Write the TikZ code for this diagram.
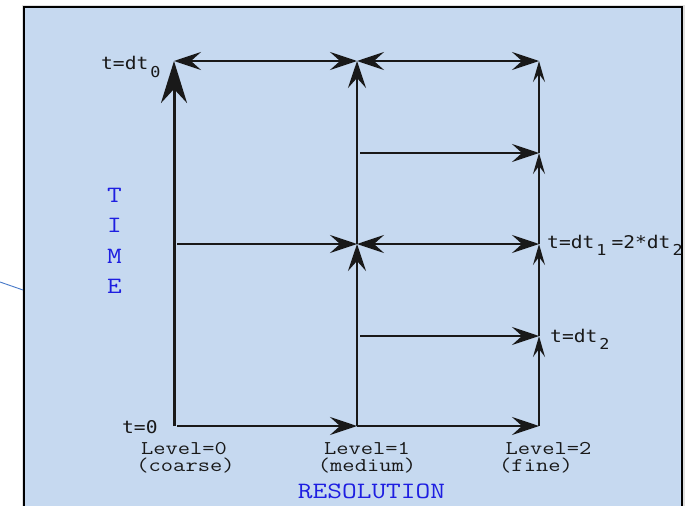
\documentclass[tikz,border=0pt]{standalone}
\usepackage{fontspec}
\usepackage{graphicx}
\usetikzlibrary{arrows.meta}
\newfontfamily\tfont[FakeStretch=1.12]{DejaVu Sans Mono}
\definecolor{boxfill}{RGB}{198,217,240}
\definecolor{labblue}{RGB}{30,30,225}
\definecolor{linkblue}{RGB}{70,120,200}
\definecolor{ink}{RGB}{25,25,25}
\newcommand{\cour}[1]{\scalebox{1.22}[1]{\ttfamily #1}}
\newcommand{\lowsub}[1]{\hspace{2pt}\raisebox{-7.5pt}{\fontsize{15}{15}\selectfont #1}}
\tikzset{
  BigTip/.tip={Stealth[length=42pt,width=26pt,inset=14pt]},
  MidTip/.tip={Stealth[length=27pt,width=18pt,inset=10pt]},
  SmallTip/.tip={Stealth[length=21pt,width=12pt,inset=8pt]},
  conn/.style={draw=ink, line width=1.8pt},
  thinconn/.style={draw=ink, line width=1.4pt},
  thickconn/.style={draw=ink, line width=3pt},
  tlab/.style={font=\tfont\fontsize{17.5}{17.5}\selectfont, text=ink, inner sep=0pt, anchor=base west},
  levlab/.style={font=\fontsize{19.5}{19.5}\selectfont, text=ink, inner sep=0pt, anchor=base, text depth=0pt},
  parlab/.style={font=\fontsize{19.5}{19.5}\selectfont, text=ink, inner sep=0pt, anchor=base, text height=10pt},
  axlab/.style={font=\fontsize{23.4}{23.4}\selectfont, text=labblue, inner sep=0pt, anchor=base},
}
\begin{document}
\begin{tikzpicture}[x=1pt,y=-1pt]
\useasboundingbox (0,0) rectangle (689,506);
\clip (0,0) rectangle (689,506);
% frame
\draw[black!12, line width=5pt] (24,7) rectangle (682,530);
\fill[boxfill] (24,7) rectangle (682,530);
\draw[black, line width=2pt] (24,7) rectangle (682,530);
% external link line
\coordinate (lk0) at (0,282);
\coordinate (lk1) at (23,290);
\draw[linkblue, line width=0.9pt] (lk0) -- (lk1);
% grid points
\coordinate (A0) at (174,426);
\coordinate (Am) at (174,244);
\coordinate (A4) at (174,61);
\coordinate (B0) at (357,426);
\coordinate (B1) at (357,336);
\coordinate (B2) at (357,244);
\coordinate (B3) at (357,153);
\coordinate (B4) at (357,61);
\coordinate (C0) at (539,426);
\coordinate (C1) at (539,336);
\coordinate (C2) at (539,244);
\coordinate (C3) at (539,153);
\coordinate (C4) at (539,61);
% level 0
\draw[thickconn, -{BigTip}] (A0) -- (A4);
% bottom
\draw[conn, -{MidTip}, shorten <=3pt] (A0) -- (B0);
\draw[conn, -{MidTip}] (B0) -- (C0);
% top
\draw[conn, {MidTip}-{MidTip}] (A4) -- (B4);
\draw[conn, {MidTip}-{MidTip}] (B4) -- (C4);
% middle
\draw[conn, -{MidTip}, shorten <=3pt] (Am) -- (B2);
\draw[conn, {MidTip}-{MidTip}] (B2) -- (C2);
% fine steps
\draw[conn, -{MidTip}, shorten <=3pt] (B3) -- (C3);
\draw[conn, -{MidTip}, shorten <=3pt] (B1) -- (C1);
% level 1 vertical
\draw[conn, -{MidTip}] (B0) -- (B2);
\draw[conn, -{MidTip}] (B2) -- (B4);
% level 2 vertical
\draw[thinconn, -{SmallTip}] (C0) -- (C1);
\draw[thinconn, -{SmallTip}] (C1) -- (C2);
\draw[thinconn, -{SmallTip}] (C2) -- (C3);
\draw[thinconn, -{SmallTip}] (C3) -- (C4);
% time labels
\node[tlab] (tdt0) at (101,69.5) {t=dt\lowsub{0}};
\node[tlab] (tzero) at (122,433) {t=0};
\node[tlab] (tdt1) at (547,248) {t=dt\lowsub{1}\hspace{5pt}=2*dt\lowsub{2}};
\node[tlab] (tdt2) at (550,342) {t=dt\lowsub{2}};
% level labels
\node[levlab] (lev0) at (184,454) {\cour{Level=0}};
\node[parlab] (coarse) at (185.5,471) {\cour{(coarse)}};
\node[levlab] (lev1) at (367,454) {\cour{Level=1}};
\node[parlab] (medium) at (367,471) {\cour{(medium)}};
\node[levlab] (lev2) at (548.5,454) {\cour{Level=2}};
\node[parlab] (fine) at (536,471) {\cour{(fine)}};
% axis labels
\node[axlab] (T) at (114.5,202) {\cour{T}};
\node[axlab] (I) at (114.5,232.5) {\cour{I}};
\node[axlab] (M) at (114.5,263) {\cour{M}};
\node[axlab] (E) at (114.5,293.5) {\cour{E}};
\node[axlab] (res) at (371.5,498) {\cour{RESOLUTION}};
\end{tikzpicture}
\end{document}
